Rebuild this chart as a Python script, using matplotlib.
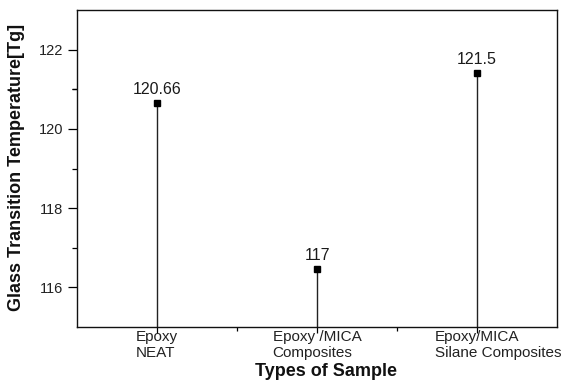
import matplotlib
matplotlib.use("Agg")
import matplotlib.pyplot as plt

categories = ["Epoxy\nNEAT", "Epoxy /MICA\nComposites", "Epoxy/MICA\nSilane Composites"]
tg_values = [120.66, 116.47, 121.42]
value_labels = ["120.66", "117", "121.5"]
y_ticks = [116, 118, 120, 122]
y_min, y_max = 115, 123

FONT = ["Liberation Sans", "DejaVu Sans"]
plt.rcParams["font.family"] = FONT
DPI = 100
fig = plt.figure(figsize=(5.77, 3.83), dpi=DPI)
ax = fig.add_axes([77 / 577, (383 - 327) / 383, 480 / 577, 317 / 383])

positions = list(range(1, len(categories) + 1))
ax.vlines(positions, y_min, tg_values, color="#222222", lw=1.0)
ax.plot(positions, tg_values, ls="none", marker="s", ms=5, color="black")

for x, v, lab in zip(positions, tg_values, value_labels):
    ax.annotate(lab, xy=(x, v), xytext=(0, 6.5), textcoords="offset points",
                ha="center", va="baseline", fontsize=11.5, color="#1a1a1a")

ax.set_xlim(0.5, len(categories) + 0.5)
ax.set_ylim(y_min, y_max)
ax.set_yticks(y_ticks)
ax.set_yticks([t + 1 for t in y_ticks[:-1]] + [121], minor=True)
ax.set_xticks(positions)
ax.set_xticks([p + 0.5 for p in positions[:-1]], minor=True)
ax.set_xticklabels([])
ax.tick_params(axis="y", which="major", length=6.5, width=0.9, pad=3.5,
               labelsize=10.5, labelcolor="#222222", direction="out")
ax.tick_params(axis="y", which="minor", length=3.8, width=0.9, direction="out")
ax.tick_params(axis="x", which="major", length=4, width=0.9, direction="out")
ax.tick_params(axis="x", which="minor", length=3, width=0.9, direction="out")
for s in ax.spines.values():
    s.set_linewidth(1.0)
    s.set_color("#111111")

renderer = fig.canvas.get_renderer()
for x, lab in zip(positions, categories):
    first = lab.split("\n")[0]
    t = ax.text(0, 0, first, fontsize=11)
    w = t.get_window_extent(renderer).width
    t.remove()
    ax.annotate(lab, xy=(x, 0), xycoords=("data", "axes fraction"),
                xytext=(-w / 2 * 72 / DPI, -2), textcoords="offset points",
                ha="left", va="top", multialignment="left", fontsize=11,
                linespacing=1.2, color="#222222")

fig.text(17 / 577, 1 - 167 / 383, "Glass Transition Temperature[Tg]", rotation=90,
         ha="center", va="center", fontsize=13, fontweight="bold", color="#111111")
fig.text(326 / 577, 1 - 371 / 383, "Types of Sample", ha="center", va="center",
         fontsize=13, fontweight="bold", color="#111111")

fig.savefig("out.png", dpi=DPI)
